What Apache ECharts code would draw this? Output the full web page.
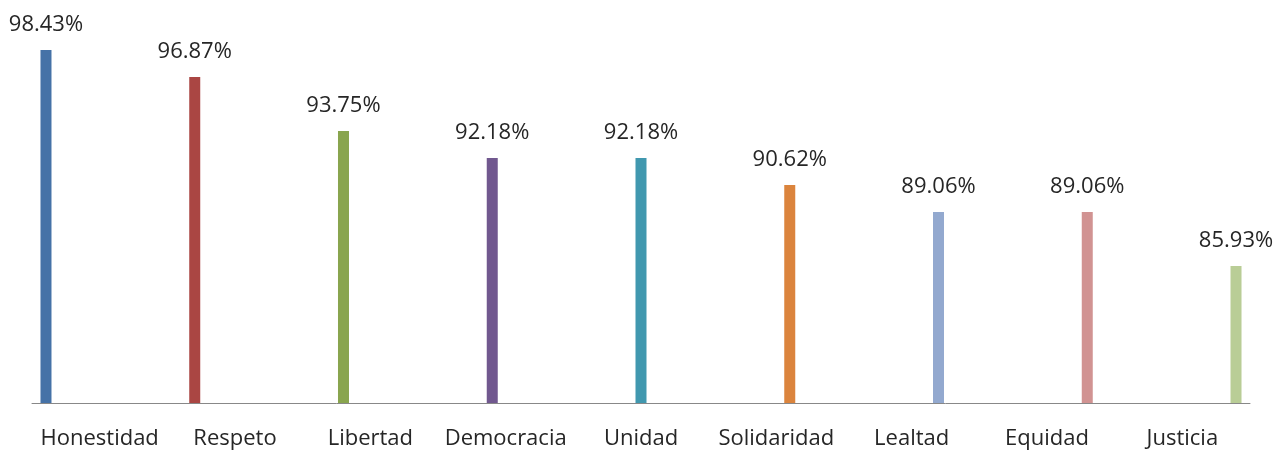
<!DOCTYPE html>
<html>
<head>
<meta charset="utf-8">
<script src="https://cdn.jsdelivr.net/npm/echarts@6/dist/echarts.min.js"></script>
<style>
  html, body { margin: 0; padding: 0; background: #fff; }
  #main { width: 1274px; height: 450px; }
</style>
</head>
<body>
<div id="main"></div>
<script>
// valores
const categorias = ['Honestidad', 'Respeto', 'Libertad', 'Democracia', 'Unidad', 'Solidaridad', 'Lealtad', 'Equidad', 'Justicia']
const porcentajes = [98.43, 96.87, 93.75, 92.18, 92.18, 90.62, 89.06, 89.06, 85.93]
const colores = ['#4572A7', '#AA4643', '#89A54E', '#71588F', '#4198AF', '#DB843D', '#93A9CF', '#D19392', '#B9CD96']

const chart = echarts.init(document.getElementById('main'))

// cada valor es su propia serie, como en Excel, así la barra se desplaza dentro del grupo
const series = categorias.map((nombre, i) => ({
  name: nombre,
  type: 'bar',
  barWidth: 11,
  barGap: '22%',
  data: categorias.map((_, j) => (j === i ? porcentajes[i] : '-')),
  itemStyle: { color: colores[i] },
  label: {
    show: true,
    position: 'top',
    distance: 14,
    formatter: p => p.value.toFixed(2) + '%',
    fontFamily: 'Open Sans',
    fontSize: 22,
    color: '#262626'
  }
}))

chart.setOption({
  animation: false,
  grid: { left: 32, right: 24, top: 23, bottom: 46 },
  xAxis: {
    type: 'category',
    data: categorias,
    axisLine: { lineStyle: { color: '#888', width: 1 } },
    axisTick: { show: false },
    axisLabel: {
      fontFamily: 'Open Sans',
      fontSize: 22,
      color: '#262626',
      margin: 25,
      interval: 0
    }
  },
  yAxis: {
    type: 'value',
    min: 78,
    max: 100,
    show: false
  },
  series: series
})
</script>
</body>
</html>
